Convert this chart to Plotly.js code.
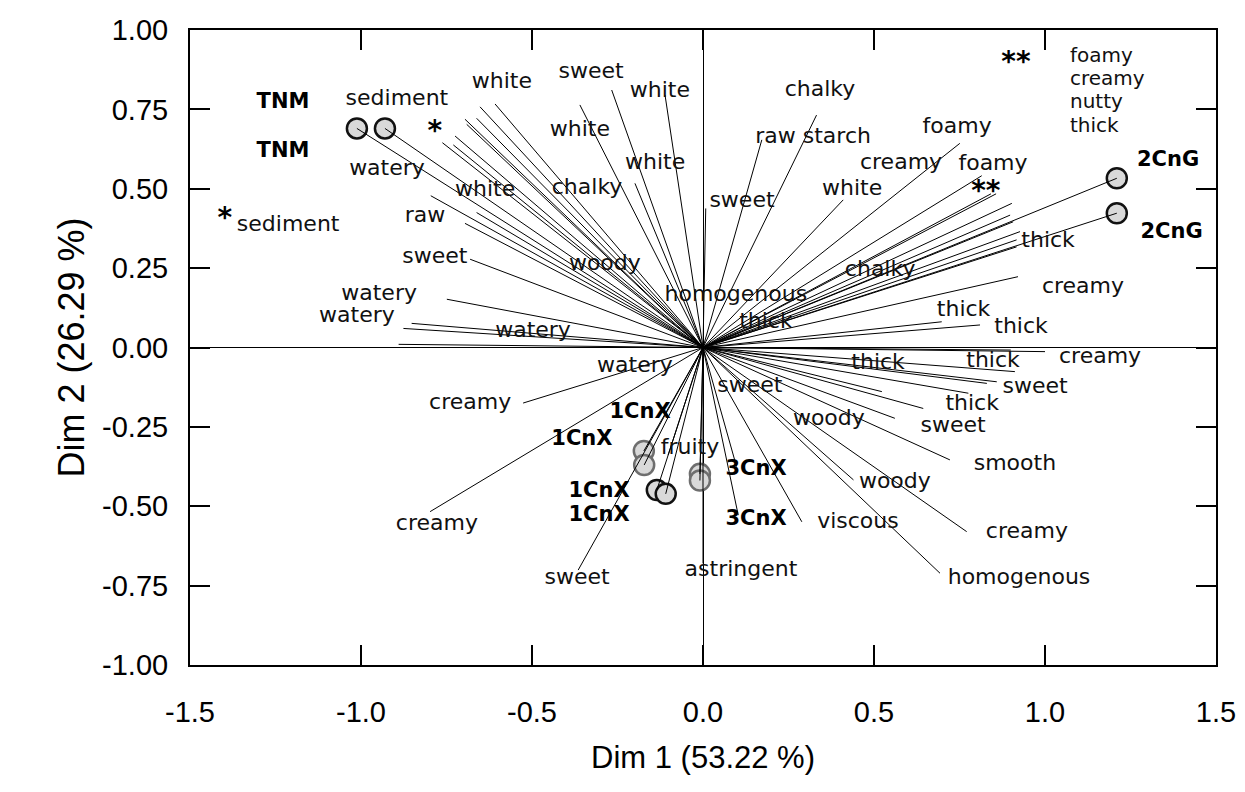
<!DOCTYPE html>
<html>
<head>
<meta charset="utf-8">
<script src="https://cdn.plot.ly/plotly-3.0.1.min.js"></script>
<style>html,body{margin:0;padding:0;background:#fff;}#chart{width:1245px;height:792px;}</style>
</head>
<body>
<div id="chart"></div>
<script>
// Variable loadings (line end points from the origin)
const loadX = [-0.652,-0.608,-0.696,-0.691,-0.662,-0.725,-0.762,-0.730,-0.796,-0.662,-0.696,-0.681,-0.749,-0.852,-0.876,-0.890,-0.360,-0.267,-0.111,-0.199,
  0.008,0.172,0.332,0.410,0.751,0.815,0.842,0.857,0.903,0.898,0.907,0.927,0.917,0.917,0.921,0.698,0.810,
  1.000,0.900,0.912,0.859,0.830,0.776,0.644,0.561,0.523,0.722,0.771,0.693,0.440,0.289,0.098,0.103,
  -0.526,-0.798,-0.365,0.000,-0.102];
const loadY = [0.758,0.767,0.719,0.703,0.722,0.666,0.645,0.638,0.478,0.425,0.391,0.278,0.152,0.076,0.060,0.010,0.764,0.811,0.795,0.517,
  0.438,0.654,0.732,0.465,0.643,0.541,0.484,0.484,0.454,0.417,0.396,0.365,0.339,0.317,0.223,0.081,0.071,
  -0.013,-0.008,-0.076,-0.108,-0.113,-0.144,-0.192,-0.223,-0.139,-0.354,-0.580,-0.711,-0.417,-0.549,-0.375,-0.528,
  -0.175,-0.517,-0.701,-0.680,-0.339];

// Sample (individual) coordinates
const sampleNames = ['TNM','TNM','2CnG','2CnG','1CnX','1CnX'];
const sampleX = [-1.012,-0.930,1.210,1.210,-0.135,-0.109];
const sampleY = [0.690,0.690,0.533,0.423,-0.449,-0.461];
const fadedNames = ['1CnX','1CnX','3CnX','3CnX'];
const fadedX = [-0.173,-0.172,-0.009,-0.009];
const fadedY = [-0.326,-0.370,-0.398,-0.419];

// Attribute labels
const attrText = ['sediment','watery','white','raw','sediment','sweet','watery','watery','watery','white','sweet','white','white','white','chalky','woody','homogenous','sweet','raw starch','chalky','foamy','creamy','foamy','white',
  'thick','chalky','creamy','thick','thick','thick','creamy','thick','thick','sweet','thick','sweet','watery','sweet','woody','smooth','woody','viscous','creamy','homogenous','creamy','creamy','fruity','sweet','astringent'];
const attrX = [-0.895,-0.924,-0.637,-0.813,-1.213,-0.784,-0.947,-1.012,-0.497,-0.588,-0.327,-0.126,-0.360,-0.140,-0.339,-0.287,0.096,0.114,0.322,0.342,0.743,0.579,0.848,0.436,
  1.009,0.518,1.111,0.762,0.930,0.184,1.161,0.512,0.848,0.971,0.787,0.731,-0.199,0.137,0.368,0.912,0.561,0.453,0.947,0.924,-0.681,-0.778,-0.038,-0.368,0.111];
const attrY = [0.780,0.562,0.496,0.414,0.383,0.282,0.168,0.099,0.049,0.836,0.865,0.805,0.685,0.581,0.502,0.263,0.165,0.461,0.663,0.811,0.694,0.581,0.575,0.499,
  0.335,0.241,0.188,0.115,0.064,0.080,-0.033,-0.049,-0.043,-0.127,-0.178,-0.250,-0.061,-0.124,-0.228,-0.367,-0.424,-0.550,-0.584,-0.726,-0.175,-0.559,-0.317,-0.726,-0.701];

// Stacked labels (top right, left aligned)
const stackText = ['foamy','creamy','nutty','thick'];
const stackX = [1.073,1.073,1.073,1.073];
const stackY = [0.915,0.843,0.771,0.695];

// Group labels (bold)
const groupText = ['TNM','TNM','2CnG','2CnG','1CnX','1CnX','1CnX','1CnX','3CnX','3CnX'];
const groupX = [-1.228,-1.228,1.360,1.370,-0.184,-0.354,-0.304,-0.304,0.155,0.155];
const groupY = [0.770,0.616,0.587,0.361,-0.206,-0.291,-0.455,-0.531,-0.386,-0.543];

// Significance stars
const starText = ['*','*','**','**'];
const starX = [-0.784,-1.398,0.827,0.915];
const starY = [0.676,0.402,0.487,0.893];

// Tick labels
const xTickVals = [-1.5,-1.0,-0.5,0.0,0.5,1.0,1.5];
const xTickText = ['-1.5','-1.0','-0.5','0.0','0.5','1.0','1.5'];
const yTickVals = [-1.0,-0.75,-0.5,-0.25,0.0,0.25,0.5,0.75,1.0];
const yTickText = ['-1.00','-0.75','-0.50','-0.25','0.00','0.25','0.50','0.75','1.00'];

function rays(xs, ys){
  const X=[],Y=[];
  for(let i=0;i<xs.length;i++){X.push(0,xs[i],null);Y.push(0,ys[i],null);}
  return {X,Y};
}
const r1 = rays(loadX, loadY);
const r2 = rays(sampleX.concat(fadedX), sampleY.concat(fadedY));

const labFont = {family:'DejaVu Sans, Verdana, sans-serif', size:22, color:'#111'};

const traces = [
  {type:'scatter', mode:'markers', x:fadedX, y:fadedY, text:fadedNames, hoverinfo:'text',
   marker:{size:20, color:'#d9d9d9', line:{color:'#6e6e6e', width:2.5}}, showlegend:false},
  {type:'scatter', mode:'markers', x:sampleX, y:sampleY, text:sampleNames, hoverinfo:'text',
   marker:{size:20, color:'#d9d9d9', line:{color:'#111', width:2.5}}, showlegend:false},
  {type:'scatter', mode:'lines', x:r1.X, y:r1.Y, line:{color:'#000', width:1}, hoverinfo:'skip', showlegend:false, connectgaps:false},
  {type:'scatter', mode:'lines', x:r2.X, y:r2.Y, line:{color:'#000', width:1}, hoverinfo:'skip', showlegend:false, connectgaps:false},
  {type:'scatter', mode:'text', x:attrX, y:attrY, text:attrText, textposition:'middle center',
   textfont:labFont, hoverinfo:'skip', showlegend:false, cliponaxis:false},
  {type:'scatter', mode:'text', x:stackX, y:stackY, text:stackText, textposition:'middle right',
   textfont:{family:'DejaVu Sans, Verdana, sans-serif', size:20, color:'#111'}, hoverinfo:'skip', showlegend:false, cliponaxis:false},
  {type:'scatter', mode:'text', x:groupX, y:groupY, text:groupText, textposition:'middle center',
   textfont:{family:'DejaVu Sans, Verdana, sans-serif', size:21, color:'#000', weight:'bold'}, hoverinfo:'skip', showlegend:false, cliponaxis:false},
  {type:'scatter', mode:'text', x:starX, y:starY, text:starText, textposition:'middle center',
   textfont:{family:'DejaVu Sans, sans-serif', size:28, color:'#000', weight:'bold'}, hoverinfo:'skip', showlegend:false, cliponaxis:false}
];

const axisCommon = {
  showgrid:false, zeroline:true, zerolinecolor:'#000', zerolinewidth:1,
  showline:true, linecolor:'#000', linewidth:2, mirror:'ticks',
  ticks:'inside', ticklen:20, tickwidth:2, tickcolor:'#000', tickmode:'array',
  tickfont:{family:'Liberation Sans, Arial, sans-serif', size:29, color:'#000'}
};

const layout = {
  width:1245, height:792,
  margin:{l:190, r:29, t:30, b:127},
  paper_bgcolor:'#fff', plot_bgcolor:'#fff',
  xaxis:Object.assign({}, axisCommon, {
    range:[-1.5,1.5], tickvals:xTickVals, ticktext:xTickText, ticklabelstandoff:20,
    title:{text:'Dim 1 (53.22 %)', font:{family:'Liberation Sans, Arial, sans-serif', size:31, color:'#000'}, standoff:20}
  }),
  yaxis:Object.assign({}, axisCommon, {
    range:[-1,1], tickvals:yTickVals, ticktext:yTickText, ticklabelstandoff:14,
    title:{text:'Dim 2 (26.29 %)', font:{family:'Liberation Sans, Arial, sans-serif', size:36, color:'#000'}, standoff:6}
  })
};

Plotly.newPlot('chart', traces, layout, {displayModeBar:false, staticPlot:true});
</script>
</body>
</html>
